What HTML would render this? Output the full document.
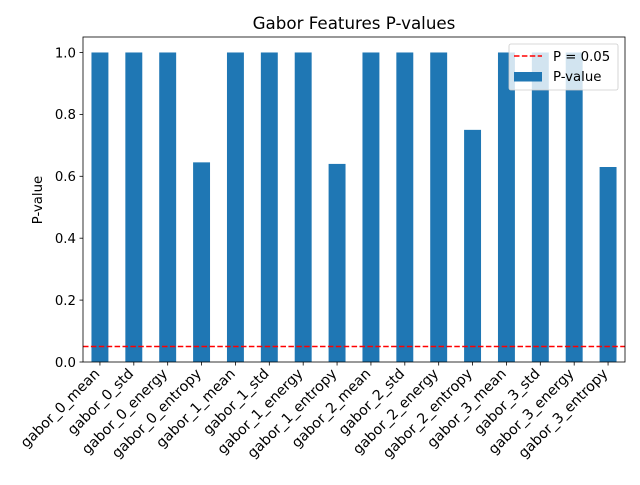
<!DOCTYPE html>
<html><head><meta charset="utf-8"><style>
body{margin:0;background:#fff;}
svg{font-family:"DejaVu Sans","Liberation Sans",sans-serif;}
</style></head><body>
<svg id="chart" width="640" height="480" xmlns="http://www.w3.org/2000/svg">
<rect width="640" height="480" fill="#fff"/>
<text x="354" y="29" font-size="16.7" text-anchor="middle">Gabor Features P-values</text>
<g id="bars"></g>
<g id="xticks"></g>
<g id="yticks"></g>
<line id="thresh" stroke="#ff0000" stroke-width="1.5" stroke-dasharray="5.5,2.4"/>
<rect x="83" y="37" width="542" height="325" fill="none" stroke="#000" stroke-width="0.8"/>
<text transform="translate(42,200) rotate(-90)" font-size="13.3" text-anchor="middle">P-value</text>
<g>
<rect x="509" y="44" width="109" height="46" rx="2" fill="#fff" fill-opacity="0.8" stroke="#ccc" stroke-width="0.8"/>
<line x1="514" y1="56" x2="542" y2="56" stroke="#ff0000" stroke-width="1.5" stroke-dasharray="5.5,2.4"/>
<text x="553" y="61" font-size="13.3">P = 0.05</text>
<rect x="514" y="72" width="28" height="9.5" fill="#1f77b4"/>
<text x="553" y="81" font-size="13.3">P-value</text>
</g>
</svg>
<script>
const categories=["gabor_0_mean","gabor_0_std","gabor_0_energy","gabor_0_entropy","gabor_1_mean","gabor_1_std","gabor_1_energy","gabor_1_entropy","gabor_2_mean","gabor_2_std","gabor_2_energy","gabor_2_entropy","gabor_3_mean","gabor_3_std","gabor_3_energy","gabor_3_entropy"];
const pvalues=[1,1,1,0.645,1,1,1,0.64,1,1,1,0.75,1,1,1,0.63];
const yTicks=[0,0.2,0.4,0.6,0.8,1.0];
const yTickLabels=["0.0","0.2","0.4","0.6","0.8","1.0"];
const threshold=0.05;
const NS="http://www.w3.org/2000/svg";
const L=83,R=625,T=37,B=362,yMax=1.05;
const y=v=>B-(v/yMax)*(B-T);
const step=(R-L)/categories.length;
const xc=i=>L+step*(i+0.5);
function mk(tag,attrs,parent){const e=document.createElementNS(NS,tag);for(const k in attrs)e.setAttribute(k,attrs[k]);parent.appendChild(e);return e;}
const bars=document.getElementById('bars'),xt=document.getElementById('xticks'),yt=document.getElementById('yticks');
categories.forEach((c,i)=>{
 const w=step*0.5;
 const r=mk('rect',{x:xc(i)-w/2,y:y(pvalues[i]),width:w,height:B-y(pvalues[i]),fill:'#1f77b4'},bars);
 
 
 const t=mk('line',{x1:xc(i),x2:xc(i),y1:B,y2:B+3.5,stroke:'#000','stroke-width':0.8},xt);
 
 
 const tx=mk('text',{'font-size':14.2,'text-anchor':'end',transform:`translate(${xc(i)+0.5},${B+12.5}) rotate(-45)`},xt);
 tx.textContent=c;
 
 
});
yTicks.forEach((v,i)=>{
 const t=mk('line',{x1:L-3.5,x2:L,y1:y(v),y2:y(v),stroke:'#000','stroke-width':0.8},yt);
 
 
 const tx=mk('text',{x:L-7,y:y(v)+4.8,'font-size':13.3,'text-anchor':'end'},yt);
 tx.textContent=yTickLabels[i];
 
 
});
const th=document.getElementById('thresh');
th.setAttribute('x1',L);th.setAttribute('x2',R);th.setAttribute('y1',y(threshold));th.setAttribute('y2',y(threshold));
</script>
</body></html>
